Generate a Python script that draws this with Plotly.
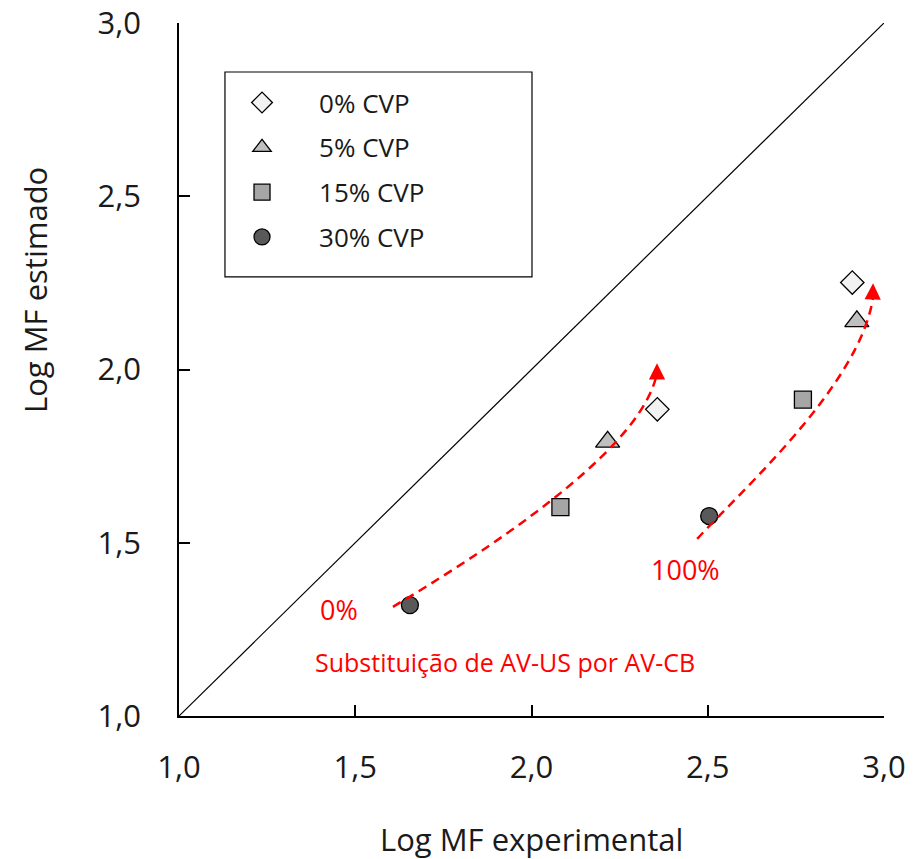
import plotly.graph_objects as go

# ---------------- data ----------------
series_names = ["0% CVP", "5% CVP", "15% CVP", "30% CVP"]
x_cvp0 = [2.357, 2.910]
y_cvp0 = [1.885, 2.251]
x_cvp5 = [2.216, 2.923]
y_cvp5 = [1.791, 2.139]
x_cvp15 = [2.082, 2.770]
y_cvp15 = [1.603, 1.913]
x_cvp30 = [1.655, 2.504]
y_cvp30 = [1.320, 1.577]
identity_line = [1.0, 3.0]
tick_values = [1.0, 1.5, 2.0, 2.5, 3.0]

FONT = "Open Sans"
TXT = "#1a1a1a"

symbols = ["diamond", "triangle-up", "square", "circle"]
fills = ["#f2f2f2", "#bfbfbf", "#a6a6a6", "#595959"]
sizes = [18, 21, 17, 17]
xs = [x_cvp0, x_cvp5, x_cvp15, x_cvp30]
ys = [y_cvp0, y_cvp5, y_cvp15, y_cvp30]

fig = go.Figure()

# 1:1 line
fig.add_trace(go.Scatter(x=identity_line, y=identity_line, mode="lines",
                         line=dict(color="black", width=1.2),
                         showlegend=False, hoverinfo="skip"))

for i, name in enumerate(series_names):
    fig.add_trace(go.Scatter(
        x=xs[i], y=ys[i], mode="markers", name=name,
        legendgroup=name,
        marker=dict(symbol=symbols[i], size=sizes[i], color=fills[i],
                    line=dict(color="black", width=1.3)),
        cliponaxis=False))

red = "#ff0000"
shapes = [
    # legend frame
    dict(type="rect", xref="paper", yref="paper",
         x0=0.0652, x1=0.5007, y0=0.6336, y1=0.9293,
         line=dict(color="black", width=1.2), fillcolor="white", layer="below"),
    dict(type="path", xref="x", yref="y",
         path="M 1.607,1.315 C 1.976,1.540 2.319,1.794 2.356,1.990",
         line=dict(color=red, width=2.5, dash="9px,6px")),
    dict(type="path", xref="x", yref="y",
         path="M 2.470,1.511 C 2.583,1.639 2.935,1.956 2.969,2.210",
         line=dict(color=red, width=2.5, dash="9px,6px")),
]

annotations = [
    # arrow heads
    dict(x=2.356, y=2.018, ax=2.356, ay=1.985, xref="x", yref="y",
         axref="x", ayref="y", showarrow=True, arrowhead=2, arrowsize=1.3,
         arrowwidth=2.5, arrowcolor=red, text=""),
    dict(x=2.969, y=2.249, ax=2.968, ay=2.205, xref="x", yref="y",
         axref="x", ayref="y", showarrow=True, arrowhead=2, arrowsize=1.3,
         arrowwidth=2.5, arrowcolor=red, text=""),
    dict(x=1.455, y=1.308, xref="x", yref="y", text="0%", showarrow=False,
         font=dict(family=FONT, size=27, color=red)),
    dict(x=2.438, y=1.424, xref="x", yref="y", text="100%", showarrow=False,
         font=dict(family=FONT, size=27, color=red)),
    dict(x=1.925, y=1.157, xref="x", yref="y",
         text="Substituição de AV-US por AV-CB", showarrow=False,
         font=dict(family=FONT, size=25, color=red)),
    # axis titles
    dict(x=0.5, y=-0.178, xref="paper", yref="paper", text="Log MF experimental",
         showarrow=False, xanchor="center", yanchor="middle",
         font=dict(family=FONT, size=31, color=TXT)),
    dict(x=-0.204, y=0.615, xref="paper", yref="paper", text="Log MF estimado",
         showarrow=False, xanchor="center", yanchor="middle", textangle=-90,
         font=dict(family=FONT, size=31, color=TXT)),
]

axis_common = dict(
    range=[1.0, 3.0], tickvals=tick_values, tickformat=".1f",
    showgrid=False, zeroline=False, showline=True, linecolor="black",
    linewidth=1.6, ticks="inside", ticklen=11, tickwidth=1.6, tickcolor="black",
    tickfont=dict(family=FONT, size=31, color=TXT), mirror=False,
    automargin=False,
)

fig.update_layout(
    width=913, height=859,
    margin=dict(l=179, r=29, t=23, b=143, autoexpand=False),
    paper_bgcolor="white", plot_bgcolor="white",
    separators=", ",
    xaxis=dict(**axis_common, ticklabelstandoff=23),
    yaxis=dict(**axis_common, ticklabelstandoff=30),
    shapes=shapes, annotations=annotations,
    showlegend=True,
    legend=dict(x=0.0369, y=0.919, xanchor="left", yanchor="top",
                bgcolor="rgba(0,0,0,0)", borderwidth=0,
                font=dict(family=FONT, size=26, color=TXT),
                traceorder="grouped", tracegroupgap=8,
                itemwidth=104),
)

fig.write_html("out.html")
